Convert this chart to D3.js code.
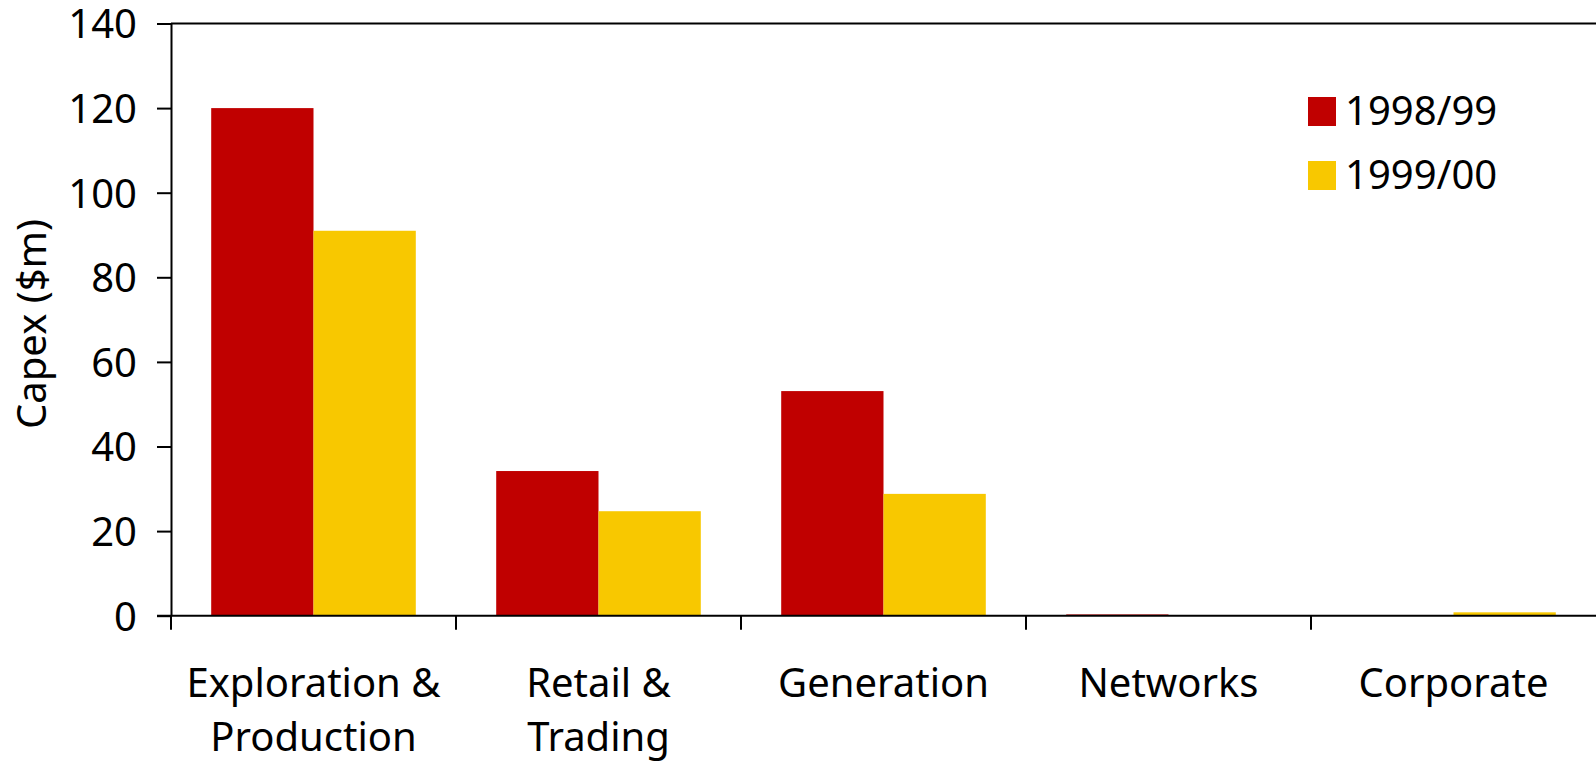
<!DOCTYPE html>
<html>
<head>
<meta charset="utf-8">
<script src="https://cdn.jsdelivr.net/npm/d3@7"></script>
<style>
  html, body { margin: 0; padding: 0; background: #fff; }
  svg { display: block; }
  text { font-family: "Noto Sans", "Open Sans", sans-serif; fill: #000; }
</style>
</head>
<body>
<svg id="chart" width="1596" height="762"></svg>
<script>
// Capital expenditure by business segment, two financial years
const categories = [["Exploration &", "Production"], ["Retail &", "Trading"], ["Generation"], ["Networks"], ["Corporate"]];
const seriesNames = ["1998/99", "1999/00"];
const capex9899 = [120, 34.2, 53.1, 0.3, 0];
const capex9900 = [91, 24.7, 28.8, 0, 0.8];
const yTicks = [0, 20, 40, 60, 80, 100, 120, 140];
const colors = ["#c00000", "#f8c800"];

const svg = d3.select("#chart");
const plotLeft = 171, plotRight = 1596, plotTop = 23.5, plotBottom = 615.7;
const fontSize = 40;

const catKeys = categories.map(c => c.join(" "));
const seriesValues = [capex9899, capex9900];

const x0 = d3.scaleBand().domain(catKeys).range([plotLeft, plotRight]).padding(0);
const x1 = d3.scaleBand().domain(seriesNames).range([0, x0.bandwidth()])
  .paddingInner(0).paddingOuter(0.393);
const y = d3.scaleLinear().domain([0, 140]).range([plotBottom, plotTop]);

// bars
const groups = svg.append("g").selectAll("g")
  .data(catKeys)
  .join("g")
  .attr("transform", d => `translate(${x0(d)},0)`);

groups.selectAll("rect")
  .data((d, i) => seriesNames.map((s, j) => ({ s, v: seriesValues[j][i], j })))
  .join("rect")
  .attr("x", d => x1(d.s))
  .attr("width", x1.bandwidth())
  .attr("y", d => y(d.v))
  .attr("height", d => y(0) - y(d.v))
  .attr("fill", d => colors[d.j]);

// top frame line
svg.append("line")
  .attr("x1", plotLeft).attr("x2", plotRight)
  .attr("y1", y(140)).attr("y2", y(140))
  .attr("stroke", "#000").attr("stroke-width", 2);

// y axis
const yAxis = svg.append("g")
  .attr("transform", `translate(${plotLeft},0)`)
  .call(d3.axisLeft(y).tickValues(yTicks).tickSize(14).tickPadding(20).tickSizeOuter(0));
yAxis.select(".domain").attr("stroke", "#000").attr("stroke-width", 2);
yAxis.selectAll(".tick line").attr("stroke", "#000").attr("stroke-width", 2);
yAxis.selectAll(".tick text")
  .attr("font-size", fontSize)
  .attr("font-family", "Noto Sans, sans-serif")
  .attr("dy", "0.36em")
  .attr("fill", "#000");

// x axis line and category separators
const xAxis = svg.append("g")
  .attr("transform", `translate(0,${plotBottom})`)
  .call(d3.axisBottom(x0).tickSize(0).tickFormat(""));
xAxis.select(".domain").attr("stroke", "#000").attr("stroke-width", 2)
  .attr("d", `M${plotLeft - 14},0H${plotRight}`);
xAxis.selectAll(".tick").remove();

const sepPositions = catKeys.map(k => x0(k));
svg.append("g").selectAll("line")
  .data(sepPositions)
  .join("line")
  .attr("x1", d => d).attr("x2", d => d)
  .attr("y1", plotBottom).attr("y2", plotBottom + 14)
  .attr("stroke", "#000").attr("stroke-width", 2);

// category labels
const labels = svg.append("g").selectAll("text")
  .data(categories)
  .join("text")
  .attr("x", (d, i) => x0(catKeys[i]) + x0.bandwidth() / 2)
  .attr("y", 697)
  .attr("text-anchor", "middle")
  .attr("font-size", fontSize);
labels.selectAll("tspan")
  .data(d => d)
  .join("tspan")
  .attr("x", function () { return d3.select(this.parentNode).attr("x"); })
  .attr("dy", (d, i) => i === 0 ? 0 : 54)
  .text(d => d);

// y axis title
svg.append("text")
  .attr("transform", `translate(46,324) rotate(-90)`)
  .attr("text-anchor", "middle")
  .attr("font-size", fontSize)
  .text("Capex ($m)");

// legend
const legend = svg.append("g").selectAll("g")
  .data(seriesNames)
  .join("g")
  .attr("transform", (d, i) => `translate(1308,${97 + i * 64})`);
legend.append("rect")
  .attr("width", 28).attr("height", 29)
  .attr("fill", (d, i) => colors[i]);
legend.append("text")
  .attr("x", 37).attr("y", 28)
  .attr("font-size", fontSize)
  .text(d => d);
</script>
</body>
</html>
